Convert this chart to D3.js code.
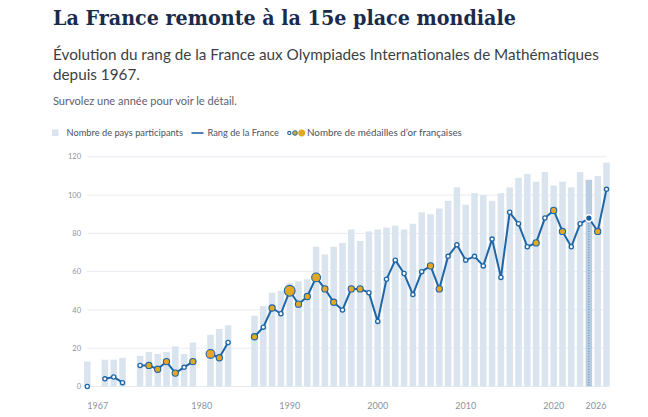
<!DOCTYPE html>
<html>
<head>
<meta charset="utf-8">
<script src="https://cdn.jsdelivr.net/npm/d3@7"></script>
<style>
  body { margin: 0; background: #fff; }
  svg { display: block; }
</style>
</head>
<body>
<svg></svg>
<script>
// data (null = France absent that year)
const years = [1967, 1968, 1969, 1970, 1971, 1972, 1973, 1974, 1975, 1976,
  1977, 1978, 1979, 1980, 1981, 1982, 1983, 1984, 1985, 1986,
  1987, 1988, 1989, 1990, 1991, 1992, 1993, 1994, 1995, 1996,
  1997, 1998, 1999, 2000, 2001, 2002, 2003, 2004, 2005, 2006,
  2007, 2008, 2009, 2010, 2011, 2012, 2013, 2014, 2015, 2016,
  2017, 2018, 2019, 2020, 2021, 2022, 2023, 2024, 2025, 2026];
const participants = [13, null, 14, 14, 15, null, 16, 18, 17, 18,
  21, 17, 23, null, 27, 30, 32, null, null, 37,
  42, 49, 50, 54, 55, 56, 73, 69, 73, 75,
  82, 76, 81, 82, 83, 84, 82, 85, 91, 90,
  93, 97, 104, 95, 101, 100, 97, 101, 104, 109,
  111, 107, 112, 105, 107, 104, 112, 108, 110, 117];
const franceRank = [0, null, 4, 5, 2, null, 11, 11, 9, 13,
  7, 10, 13, null, 17, 15, 23, null, null, 26,
  31, 41, 38, 50, 43, 47, 57, 51, 44, 40,
  51, 51, 49, 34, 56, 66, 59, 48, 60, 63,
  51, 68, 74, 66, 68, 63, 77, 57, 91, 85,
  73, 75, 88, 92, 81, 73, 85, 88, 81, 103];
const goldMedals = [0, null, 0, 0, 0, null, 0, 1, 1, 1,
  1, 0, 1, null, 2, 1, 0, null, null, 1,
  0, 1, 0, 3, 1, 1, 2, 1, 1, 0,
  1, 1, 0, 0, 0, 0, 0, 0, 0, 1,
  1, 0, 0, 0, 0, 0, 0, 0, 0, 0,
  0, 1, 0, 1, 1, 0, 0, 0, 1, 0];
const xTickYears = [1967, 1980, 1990, 2000, 2010, 2020, 2026];
const yTickValues = [0, 20, 40, 60, 80, 100, 120];
const highlightYear = 2024;

const rows = years.map((year, i) => ({
  year, n: participants[i], v: franceRank[i], g: goldMedals[i]
}));

const width = 648, height = 417;
const svg = d3.select("svg").attr("width", width).attr("height", height)
  .attr("viewBox", [0, 0, width, height]);

const sansFont = "Lato, 'Source Sans Pro', 'Noto Sans', sans-serif";
const colors = {
  title: "#1b2b4b", sub: "#3c3f44", note: "#5b6270", legend: "#4b5260",
  bar: "#d9e4ee", barHi: "#b8cde2", grid: "#e7ecf1", line: "#1f66a6",
  gold: "#e1a826", tick: "#8a93a2"
};

// scale font-size so a text fills a measured width
function fitWidth(sel, target) {
  const len = sel.node().getComputedTextLength();
  const fs = parseFloat(sel.style("font-size"));
  const next = fs * target / len;
  sel.style("font-size", next + "px");
  return next;
}

// header
const title = svg.append("text")
  .attr("x", 53).attr("y", 25)
  .style("font-family", "'DejaVu Serif Condensed', 'DejaVu Serif', serif")
  .style("font-stretch", "condensed")
  .style("font-weight", "bold")
  .style("font-size", "24px")
  .attr("fill", colors.title)
  .text("La France remonte à la 15e place mondiale");
fitWidth(title, 463);

const sub1 = svg.append("text")
  .attr("x", 53).attr("y", 60)
  .style("font-family", sansFont).style("font-size", "18px")
  .attr("fill", colors.sub)
  .text("Évolution du rang de la France aux Olympiades Internationales de Mathématiques");
const subSize = fitWidth(sub1, 546);
svg.append("text")
  .attr("x", 53).attr("y", 79.5)
  .style("font-family", sansFont).style("font-size", subSize + "px")
  .attr("fill", colors.sub)
  .text("depuis 1967.");

const note = svg.append("text")
  .attr("x", 53).attr("y", 105)
  .style("font-family", sansFont).style("font-size", "12px")
  .attr("fill", colors.note)
  .text("Survolez une année pour voir le détail.");
fitWidth(note, 184);

// legend
const legY = 133;
const leg = svg.append("g");
leg.append("rect").attr("x", 52).attr("y", legY - 3.5).attr("width", 6.5).attr("height", 6.5)
  .attr("fill", colors.bar);
const lt1 = leg.append("text").attr("x", 66.5).attr("y", legY).attr("dy", "0.35em")
  .style("font-family", sansFont).style("font-size", "11px").attr("fill", colors.legend)
  .text("Nombre de pays participants");
fitWidth(lt1, 116.5);
leg.append("line").attr("x1", 191.5).attr("x2", 203.5).attr("y1", legY).attr("y2", legY)
  .attr("stroke", colors.line).attr("stroke-width", 1.6);
const lt2 = leg.append("text").attr("x", 207.5).attr("y", legY).attr("dy", "0.35em")
  .style("font-family", sansFont).style("font-size", "11px").attr("fill", colors.legend)
  .text("Rang de la France");
fitWidth(lt2, 71.5);
leg.append("circle").attr("cx", 289.3).attr("cy", legY).attr("r", 1.6)
  .attr("fill", "#fff").attr("stroke", colors.line).attr("stroke-width", 1.1);
leg.append("circle").attr("cx", 295).attr("cy", legY).attr("r", 2.3)
  .attr("fill", colors.gold).attr("stroke", colors.line).attr("stroke-width", 1);
leg.append("circle").attr("cx", 301.7).attr("cy", legY).attr("r", 3.4)
  .attr("fill", colors.gold).attr("stroke", "none");
const lt3 = leg.append("text").attr("x", 307).attr("y", legY).attr("dy", "0.35em")
  .style("font-family", sansFont).style("font-size", "11px").attr("fill", colors.legend)
  .text("Nombre de médailles d’or françaises");
fitWidth(lt3, 155);

// scales
const x = d3.scaleLinear().domain([1967, 2026]).range([87.3, 606.5]);
const y = d3.scaleLinear().domain([0, 120]).range([386.5, 156.8]);
const r = d3.scaleSqrt().domain([0, 3]).range([0, 5.4]);
const barW = 6.5;

// grid
svg.append("g").selectAll("line").data(yTickValues).join("line")
  .attr("x1", x(1967)).attr("x2", x(2026))
  .attr("y1", d => y(d)).attr("y2", d => y(d))
  .attr("stroke", colors.grid).attr("stroke-width", 1);

// y axis labels
svg.append("g").selectAll("text").data(yTickValues).join("text")
  .attr("x", 81).attr("y", d => y(d)).attr("dy", "0.35em")
  .attr("text-anchor", "end")
  .style("font-family", sansFont).style("font-size", "7.5px")
  .attr("fill", colors.tick)
  .text(d => d);

// x axis labels
svg.append("g").selectAll("text").data(xTickYears).join("text")
  .attr("x", d => x(d)).attr("y", 409)
  .attr("text-anchor", (d, i) => i === 0 ? "start" : i === xTickYears.length - 1 ? "end" : "middle")
  .style("font-family", sansFont).style("font-size", "9px")
  .attr("fill", colors.tick)
  .text(d => d);

// bars
svg.append("g").selectAll("rect").data(rows.filter(d => d.n != null)).join("rect")
  .attr("x", d => x(d.year) - barW / 2)
  .attr("width", barW)
  .attr("y", d => y(d.n))
  .attr("height", d => y(0) - y(d.n))
  .attr("fill", d => d.year === highlightYear ? colors.barHi : colors.bar);

// hover guide for highlighted year
const hi = rows.find(d => d.year === highlightYear);
svg.append("line")
  .attr("x1", x(hi.year)).attr("x2", x(hi.year))
  .attr("y1", y(hi.v)).attr("y2", y(0))
  .attr("stroke", "#4f86bb").attr("stroke-width", 1)
  .attr("stroke-dasharray", "1,1.6");

// rank line
const line = d3.line()
  .defined(d => d.v != null)
  .x(d => x(d.year))
  .y(d => y(d.v));
svg.append("path")
  .datum(rows)
  .attr("fill", "none")
  .attr("stroke", colors.line)
  .attr("stroke-width", 2)
  .attr("stroke-linejoin", "round")
  .attr("d", line);

// points
const pts = rows.filter(d => d.v != null && d.year !== highlightYear);
svg.append("g").selectAll("circle").data(pts).join("circle")
  .attr("cx", d => x(d.year))
  .attr("cy", d => y(d.v))
  .attr("r", d => d.g > 0 ? r(d.g) : 2.1)
  .attr("fill", d => d.g > 0 ? colors.gold : "#fff")
  .attr("stroke", colors.line)
  .attr("stroke-width", d => d.g > 0 ? 1.1 : 1.3);

svg.append("circle")
  .attr("cx", x(hi.year)).attr("cy", y(hi.v)).attr("r", 3.4)
  .attr("fill", "#1c5f9f").attr("stroke", "#fff").attr("stroke-width", 1.5);
</script>
</body>
</html>
